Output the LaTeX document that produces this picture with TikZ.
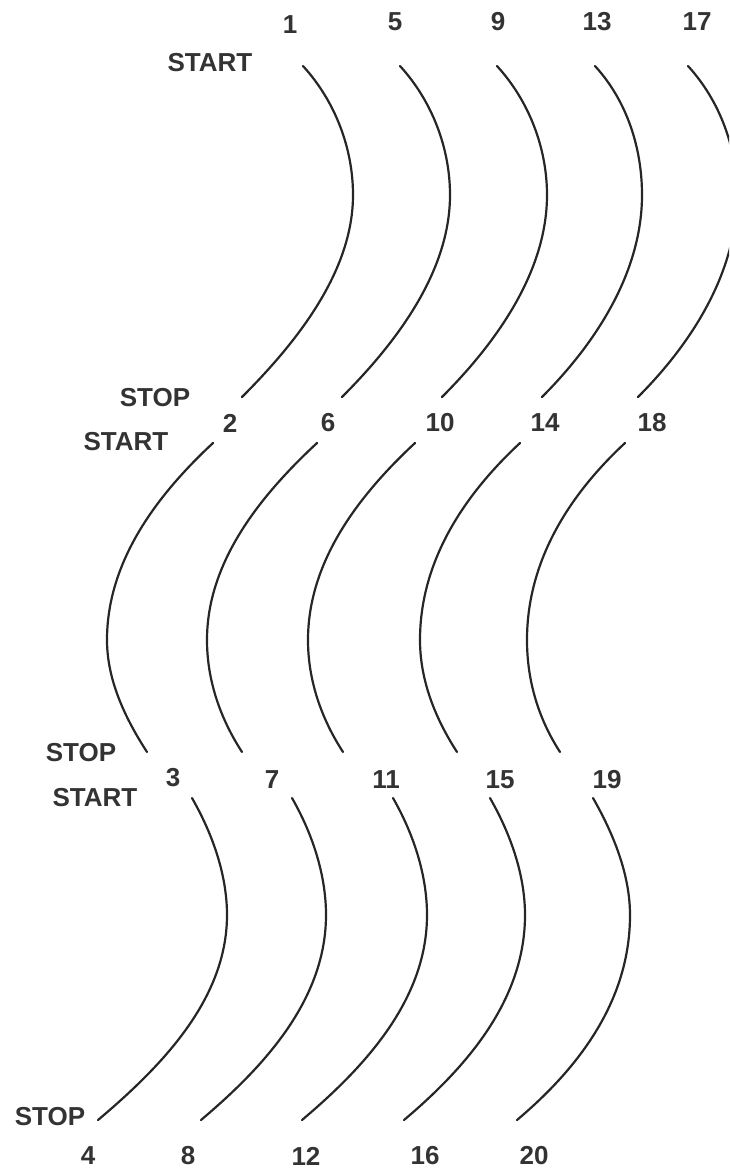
\documentclass[tikz,border=0pt]{standalone}
\usepackage{fontspec}
\setmainfont{Liberation Sans}

\begin{document}
\begin{tikzpicture}[
  x=0.5pt, y=-0.5pt,
  lbl/.style={font=\bfseries\fontsize{13}{15}\selectfont, text=black!80, inner sep=0pt},
  wave/.style={line width=1.1pt, draw=black!85, line cap=round},
]
\useasboundingbox (0,0) rectangle (729,1168);
\clip (0,0) rectangle (729,1168);

% first row of arcs, bulging right
\foreach \k/\sx/\mx/\ex in {1/303/353/242, 5/400/450/342, 9/497/547/442, 13/595/642/542, 17/688/737/638} {
  \coordinate (s\k) at (\sx,66);
  \coordinate (m\k) at (\mx,195);
  \coordinate (e\k) at (\ex,397);
  \draw[wave] (s\k) .. controls +(32,35) and +(0,-47) .. (m\k) .. controls +(0,77) and +(54,-54) .. (e\k);
}
% second row, bulging left
\foreach \k/\sx/\mx/\ex in {2/213/107/147, 6/317/207/242, 10/415/308/343, 14/520/420/457, 18/625/527/560} {
  \coordinate (s\k) at (\sx,443);
  \coordinate (m\k) at (\mx,640);
  \coordinate (e\k) at (\ex,752);
  \draw[wave] (s\k) .. controls +(-57,53) and +(0,-78) .. (m\k) .. controls +(0,40) and +(-22,-34) .. (e\k);
}
% third row, bulging right
\foreach \k/\sx/\mx/\ex in {3/192/227/98, 7/292/326/201, 11/393/427/302, 15/490/525/404, 19/593/630/517} {
  \coordinate (s\k) at (\sx,798);
  \coordinate (m\k) at (\mx,915);
  \coordinate (e\k) at (\ex,1120);
  \draw[wave] (s\k) .. controls +(20,35) and +(0,-41) .. (m\k) .. controls +(0,84) and +(64,-54) .. (e\k);
}

% numbers
\foreach \k/\px/\py in {1/290/25, 5/395/22, 9/498/22, 13/597/22, 17/697/22,
    2/230/423, 6/328/423, 10/440/423, 14/545/423, 18/652/423,
    3/173/778, 7/272/780, 11/386/780, 15/500/780, 19/607/780,
    4/88/1156, 8/188/1156, 12/306/1156, 16/425/1156, 20/534/1156} {
  \node[lbl] (n\k) at (\px,\py) {\k};
}

% start / stop marks
\node[lbl] (start1) at (210,63) {START};
\node[lbl] (stop1) at (155,398) {STOP};
\node[lbl] (start2) at (126,442) {START};
\node[lbl] (stop2) at (81,753) {STOP};
\node[lbl] (start3) at (95,798) {START};
\node[lbl] (stop3) at (50,1117) {STOP};
\end{tikzpicture}
\end{document}
